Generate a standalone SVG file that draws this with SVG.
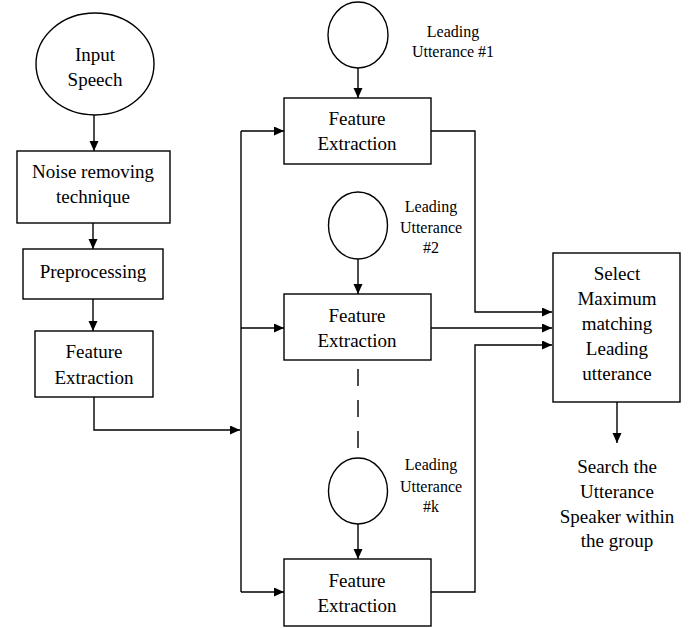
<svg xmlns="http://www.w3.org/2000/svg" width="694" height="628" viewBox="0 0 694 628">
<style>
.shape{fill:#fff;stroke:#000;stroke-width:1.4}
.t{font-family:'Liberation Serif','Times New Roman',Times,'DejaVu Serif',serif;font-size:19px;fill:#000;text-anchor:middle}
.s{font-family:'Liberation Serif','Times New Roman',Times,'DejaVu Serif',serif;font-size:16px;fill:#000;text-anchor:middle}
.c{fill:none;stroke:#000;stroke-width:1.4}
</style>
<defs>
<marker id="ah" markerUnits="userSpaceOnUse" markerWidth="11" markerHeight="10" refX="10" refY="4.5" orient="auto">
<path d="M0,0 L10,4.5 L0,9 z" fill="#000"/>
</marker>
</defs>
<rect width="694" height="628" fill="#fff"/>
<g id="connectors">
<path class="c" d="M94,115 V151" marker-end="url(#ah)"/>
<path class="c" d="M93,223 V249" marker-end="url(#ah)"/>
<path class="c" d="M93,299 V331" marker-end="url(#ah)"/>
<path class="c" d="M94,397 V430 H240" marker-end="url(#ah)"/>
<path class="c" d="M241,131 V592"/>
<path class="c" d="M241,131 H284" marker-end="url(#ah)"/>
<path class="c" d="M241,328 H284" marker-end="url(#ah)"/>
<path class="c" d="M241,592 H284" marker-end="url(#ah)"/>
<path class="c" d="M358,68 V98" marker-end="url(#ah)"/>
<path class="c" d="M358,259 V294" marker-end="url(#ah)"/>
<path class="c" d="M358,524 V559" marker-end="url(#ah)"/>
<path class="c" d="M358,369 V451" stroke-dasharray="17,14"/>
<path class="c" d="M431,131 H475 V312 H552" marker-end="url(#ah)"/>
<path class="c" d="M431,328 H552" marker-end="url(#ah)"/>
<path class="c" d="M431,592 H475 V345 H552" marker-end="url(#ah)"/>
<path class="c" d="M617,402 V443" marker-end="url(#ah)"/>
</g>
<g id="input-speech">
<ellipse class="shape" cx="95" cy="64" rx="59" ry="51"/>
<text class="t" x="95" y="61">Input</text>
<text class="t" x="95" y="86">Speech</text>
</g>
<g id="noise-removing">
<rect class="shape" x="17" y="151" width="153" height="72"/>
<text class="t" x="93" y="178">Noise removing</text>
<text class="t" x="93" y="203">technique</text>
</g>
<g id="preprocessing">
<rect class="shape" x="23" y="249" width="140" height="50"/>
<text class="t" x="93" y="278">Preprocessing</text>
</g>
<g id="feature-extraction-input">
<rect class="shape" x="35" y="331" width="118" height="66"/>
<text class="t" x="94" y="358">Feature</text>
<text class="t" x="94" y="384">Extraction</text>
</g>
<g id="leading-utterance-1">
<ellipse class="shape" cx="358" cy="35" rx="30" ry="33"/>
<text class="s" x="453" y="37">Leading</text>
<text class="s" x="453" y="57">Utterance #1</text>
</g>
<g id="feature-extraction-1">
<rect class="shape" x="284" y="98" width="147" height="66"/>
<text class="t" x="357" y="125">Feature</text>
<text class="t" x="357" y="150">Extraction</text>
</g>
<g id="leading-utterance-2">
<ellipse class="shape" cx="358" cy="225.5" rx="29.5" ry="33.5"/>
<text class="s" x="431" y="212">Leading</text>
<text class="s" x="431" y="233">Utterance</text>
<text class="s" x="431" y="253">#2</text>
</g>
<g id="feature-extraction-2">
<rect class="shape" x="284" y="294" width="147" height="66"/>
<text class="t" x="357" y="322">Feature</text>
<text class="t" x="357" y="347">Extraction</text>
</g>
<g id="leading-utterance-k">
<ellipse class="shape" cx="358" cy="491" rx="29.5" ry="33"/>
<text class="s" x="431" y="470">Leading</text>
<text class="s" x="431" y="492">Utterance</text>
<text class="s" x="431" y="512">#k</text>
</g>
<g id="feature-extraction-k">
<rect class="shape" x="284" y="559" width="147" height="67"/>
<text class="t" x="357" y="587">Feature</text>
<text class="t" x="357" y="612">Extraction</text>
</g>
<g id="select-maximum">
<rect class="shape" x="553" y="253" width="127" height="149"/>
<text class="t" x="617" y="280">Select</text>
<text class="t" x="617" y="305">Maximum</text>
<text class="t" x="617" y="330">matching</text>
<text class="t" x="617" y="355">Leading</text>
<text class="t" x="617" y="380">utterance</text>
</g>
<g id="search-speaker">
<text class="t" x="617" y="473">Search the</text>
<text class="t" x="617" y="498">Utterance</text>
<text class="t" x="617" y="523">Speaker within</text>
<text class="t" x="617" y="547">the group</text>
</g>
</svg>
